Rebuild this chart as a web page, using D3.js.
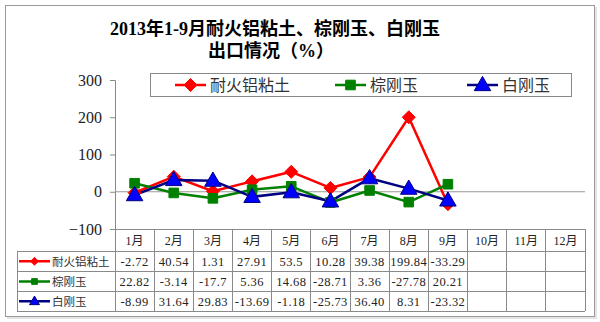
<!DOCTYPE html>
<html>
<head>
<meta charset="utf-8">
<script src="https://cdn.jsdelivr.net/npm/d3@7/dist/d3.min.js"></script>
<style>
  html, body { margin: 0; padding: 0; background: #fff; }
  svg { display: block; }
</style>
</head>
<body>
<svg id="chart" width="600" height="322"></svg>
<script>
// Monthly export growth (%) for 2013
const months = ["1月","2月","3月","4月","5月","6月","7月","8月","9月","10月","11月","12月"];
const seriesNames = ["耐火铝粘土", "棕刚玉", "白刚玉"];
const bauxite = [-2.72, 40.54, 1.31, 27.91, 53.5, 10.28, 39.38, 199.84, -33.29];
const brownCorundum = [22.82, -3.14, -17.7, 5.36, 14.68, -28.71, 3.36, -27.78, 20.21];
const whiteCorundum = [-8.99, 31.64, 29.83, -13.69, -1.18, -25.73, 36.40, 8.31, -23.32];
// Table text as printed
const bauxiteLabels = ["-2.72","40.54","1.31","27.91","53.5","10.28","39.38","199.84","-33.29"];
const brownLabels = ["22.82","-3.14","-17.7","5.36","14.68","-28.71","3.36","-27.78","20.21"];
const whiteLabels = ["-8.99","31.64","29.83","-13.69","-1.18","-25.73","36.40","8.31","-23.32"];
const yTicks = [-100, 0, 100, 200, 300];

const series = [
  { name: seriesNames[0], values: bauxite, labels: bauxiteLabels, color: "#ff0000", fill: "#ff0000", marker: "diamond" },
  { name: seriesNames[1], values: brownCorundum, labels: brownLabels, color: "#008000", fill: "#008000", marker: "square" },
  { name: seriesNames[2], values: whiteCorundum, labels: whiteLabels, color: "#000080", fill: "#0000ff", marker: "triangle" }
];

const svg = d3.select("#chart");
const serif = "'Liberation Serif', 'Times New Roman', 'Noto Sans CJK SC', serif";
const cjk = "'Noto Sans CJK SC', 'Liberation Serif', serif";

// Outer frame with a light shadow
svg.append("rect").attr("x", 7).attr("y", 7).attr("width", 590).attr("height", 312)
  .attr("fill", "#e4e4e4");
svg.append("rect").attr("x", 5.5).attr("y", 5.5).attr("width", 589).attr("height", 311)
  .attr("fill", "#fff").attr("stroke", "#9a9a9a").attr("stroke-width", 1);

// Title
const title = svg.append("text").attr("text-anchor", "middle")
  .attr("font-family", "'Liberation Serif', 'Noto Sans CJK SC', serif")
  .attr("font-weight", "bold").attr("font-size", 18).attr("fill", "#000");
title.append("tspan").attr("x", 275).attr("y", 35).text("2013年1-9月耐火铝粘土、棕刚玉、白刚玉");
title.append("tspan").attr("x", 271).attr("y", 57).text("出口情况（%）");

// Scales
const x = d3.scaleBand().domain(months).range([115, 585]);
const y = d3.scaleLinear().domain([-100, 300]).range([229, 80]);

// Y axis
const yAxis = svg.append("g").attr("transform", "translate(115,0)")
  .call(d3.axisLeft(y).tickValues(yTicks).tickSize(5).tickPadding(8).tickFormat(d => d < 0 ? "\u2212" + Math.abs(d) : d));
yAxis.select(".domain").attr("stroke", "#888");
yAxis.selectAll(".tick line").attr("stroke", "#888");
yAxis.selectAll(".tick text").attr("font-family", serif).attr("font-size", 16).attr("fill", "#222");

// Zero line
svg.append("line").attr("x1", 115).attr("x2", 585).attr("y1", y(0)).attr("y2", y(0))
  .attr("stroke", "#999").attr("stroke-width", 1);

// Marker shapes
function markerPath(type, s) {
  if (type === "diamond") return `M0,${-s}L${s},0L0,${s}L${-s},0Z`;
  if (type === "square") return `M${-s},${-s}H${s}V${s}H${-s}Z`;
  return `M0,${-s * 1.15}L${s * 1.1},${s * 0.75}L${-s * 1.1},${s * 0.75}Z`;
}
const markerSize = { diamond: 6.5, square: 4.8, triangle: 7.5 };

// Lines and markers
const line = d3.line()
  .x((d, i) => x(months[i]) + x.bandwidth() / 2)
  .y(d => y(d));

series.forEach(s => {
  svg.append("path").datum(s.values)
    .attr("d", line).attr("fill", "none")
    .attr("stroke", s.color).attr("stroke-width", 2.5).attr("stroke-linejoin", "round");
});
series.forEach(s => {
  svg.append("g").selectAll("path").data(s.values).join("path")
    .attr("transform", (d, i) => `translate(${x(months[i]) + x.bandwidth() / 2},${y(d)})`)
    .attr("d", markerPath(s.marker, markerSize[s.marker]))
    .attr("fill", s.fill).attr("stroke", s.color).attr("stroke-width", 1);
});

// Legend box
svg.append("rect").attr("x", 150.5).attr("y", 73.5).attr("width", 421).attr("height", 23)
  .attr("fill", "#fff").attr("stroke", "#888");
const legendX = [175, 335, 467];
series.forEach((s, i) => {
  const g = svg.append("g").attr("transform", `translate(${legendX[i]},85)`);
  g.append("line").attr("x1", 0).attr("x2", 31).attr("stroke", s.color).attr("stroke-width", 2.5);
  g.append("path").attr("transform", "translate(15.5,0)")
    .attr("d", markerPath(s.marker, markerSize[s.marker]))
    .attr("fill", s.fill).attr("stroke", s.color);
  g.append("text").attr("x", 35).attr("y", 6).attr("font-family", cjk).attr("font-size", 16)
    .attr("fill", "#333").text(s.name);
});

// Data table
const rowY = [229, 251, 271.5, 291.5, 311];
const tableLeft = 17;
const grid = svg.append("g").attr("stroke", "#8a8a8a").attr("stroke-width", 1).attr("shape-rendering", "crispEdges");
// column verticals
months.forEach((m, i) => {
  grid.append("line").attr("x1", x(m)).attr("x2", x(m)).attr("y1", rowY[0]).attr("y2", rowY[4]);
});
grid.append("line").attr("x1", 585).attr("x2", 585).attr("y1", rowY[0]).attr("y2", rowY[4]);
grid.append("line").attr("x1", tableLeft).attr("x2", tableLeft).attr("y1", rowY[1]).attr("y2", rowY[4]);
grid.append("line").attr("x1", 115).attr("x2", 585).attr("y1", rowY[0]).attr("y2", rowY[0]);
[1, 2, 3, 4].forEach(r => {
  grid.append("line").attr("x1", tableLeft).attr("x2", 585).attr("y1", rowY[r]).attr("y2", rowY[r]);
});

// Month headers
svg.append("g").selectAll("text").data(months).join("text")
  .attr("x", d => x(d) + x.bandwidth() / 2).attr("y", 245)
  .attr("text-anchor", "middle").attr("font-family", serif).attr("font-size", 12).attr("fill", "#222")
  .text(d => d);

// Row labels and values
series.forEach((s, r) => {
  const cy = (rowY[r + 1] + rowY[r + 2]) / 2;
  const g = svg.append("g").attr("transform", `translate(19,${cy})`);
  g.append("line").attr("x1", 0).attr("x2", 31).attr("stroke", s.color).attr("stroke-width", 2.5);
  g.append("path").attr("transform", "translate(15.5,0)")
    .attr("d", markerPath(s.marker, markerSize[s.marker] * 0.6))
    .attr("fill", s.fill).attr("stroke", s.color);
  g.append("text").attr("x", 33).attr("y", 4.5).attr("font-family", cjk).attr("font-size", 11.5)
    .attr("fill", "#333").text(s.name);

  svg.append("g").selectAll("text").data(s.labels).join("text")
    .attr("x", (d, i) => x(months[i]) + x.bandwidth() / 2).attr("y", cy + 4.5)
    .attr("text-anchor", "middle").attr("font-family", serif).attr("font-size", 12.5)
    .attr("letter-spacing", 0.4).attr("fill", "#222")
    .text(d => d);
});
</script>
</body>
</html>
